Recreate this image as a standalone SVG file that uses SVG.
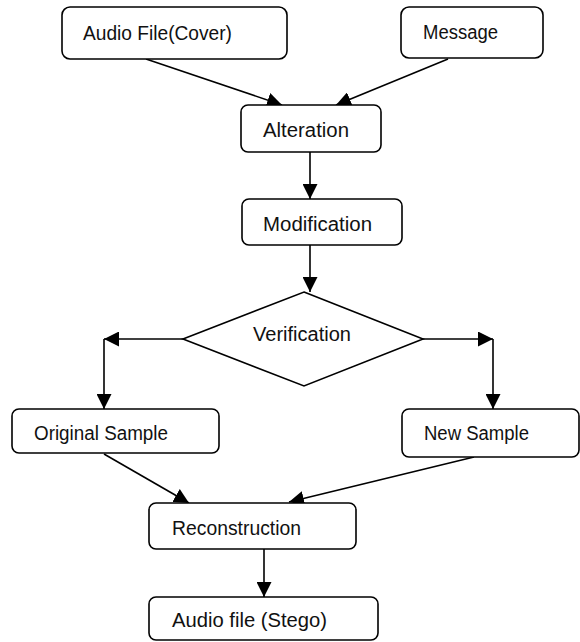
<svg xmlns="http://www.w3.org/2000/svg" width="580" height="642" viewBox="0 0 580 642">
<style>
.box{fill:#fff;stroke:#000;stroke-width:1.6}
.lbl{font-family:"Liberation Sans",Arial,sans-serif;font-size:20px;fill:#111}
.con{fill:none;stroke:#000;stroke-width:1.6}
</style>
<defs>
<marker id="ah" viewBox="0 0 15 15" refX="15" refY="7.5" markerWidth="15" markerHeight="15" markerUnits="userSpaceOnUse" orient="auto">
<path d="M0,0 L15,7.5 L0,15 Z" fill="#000"/>
</marker>
</defs>
<rect width="580" height="642" fill="#fff"/>
<g id="connectors">
<line class="con" x1="146" y1="59" x2="282" y2="105" marker-end="url(#ah)"/>
<line class="con" x1="448" y1="59" x2="336" y2="105" marker-end="url(#ah)"/>
<line class="con" x1="310" y1="152" x2="310" y2="199" marker-end="url(#ah)"/>
<line class="con" x1="310" y1="245" x2="310" y2="292" marker-end="url(#ah)"/>
<line class="con" x1="183" y1="339" x2="104" y2="339" marker-end="url(#ah)"/>
<line class="con" x1="104" y1="339" x2="104" y2="409" marker-end="url(#ah)"/>
<line class="con" x1="423" y1="339" x2="493" y2="339" marker-end="url(#ah)"/>
<line class="con" x1="493" y1="339" x2="493" y2="409" marker-end="url(#ah)"/>
<line class="con" x1="104" y1="454" x2="189" y2="503" marker-end="url(#ah)"/>
<line class="con" x1="474" y1="457" x2="289" y2="502" marker-end="url(#ah)"/>
<line class="con" x1="264" y1="549" x2="264" y2="597" marker-end="url(#ah)"/>
</g>
<g id="cover">
<rect class="box" x="62" y="7" width="225" height="52" rx="8"/>
<text class="lbl" x="83" y="40" textLength="149" lengthAdjust="spacingAndGlyphs">Audio File(Cover)</text>
</g>
<g id="message">
<rect class="box" x="401" y="7" width="142" height="51" rx="8"/>
<text class="lbl" x="423" y="39" textLength="75" lengthAdjust="spacingAndGlyphs">Message</text>
</g>
<g id="alteration">
<rect class="box" x="241" y="105" width="140" height="47" rx="7"/>
<text class="lbl" x="263" y="137" textLength="86" lengthAdjust="spacingAndGlyphs">Alteration</text>
</g>
<g id="modification">
<rect class="box" x="242" y="199" width="160" height="46" rx="7"/>
<text class="lbl" x="263" y="231" textLength="109" lengthAdjust="spacingAndGlyphs">Modification</text>
</g>
<g id="verification">
<polygon class="box" points="304,292 423,339 304,386 183,339"/>
<text class="lbl" x="253" y="341" textLength="98" lengthAdjust="spacingAndGlyphs">Verification</text>
</g>
<g id="original">
<rect class="box" x="12" y="409" width="207" height="44" rx="7"/>
<text class="lbl" x="34" y="440" textLength="134" lengthAdjust="spacingAndGlyphs">Original Sample</text>
</g>
<g id="newsample">
<rect class="box" x="402" y="409" width="177" height="48" rx="7"/>
<text class="lbl" x="424" y="440" textLength="105" lengthAdjust="spacingAndGlyphs">New Sample</text>
</g>
<g id="reconstruction">
<rect class="box" x="149" y="503" width="207" height="46" rx="7"/>
<text class="lbl" x="172" y="535" textLength="129" lengthAdjust="spacingAndGlyphs">Reconstruction</text>
</g>
<g id="stego">
<rect class="box" x="149" y="597" width="229" height="43" rx="7"/>
<text class="lbl" x="172" y="627" textLength="155" lengthAdjust="spacingAndGlyphs">Audio file (Stego)</text>
</g>
</svg>
